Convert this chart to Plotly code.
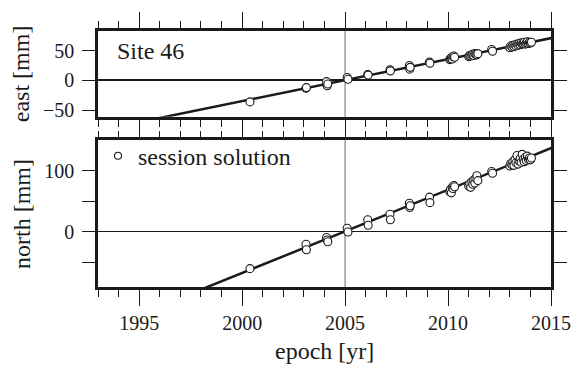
import plotly.graph_objects as go
from plotly.subplots import make_subplots

# ---- data ----
epochs = [2000.38,
          2003.10, 2003.12,
          2004.10, 2004.13, 2004.16,
          2005.10, 2005.14,
          2006.10, 2006.12,
          2007.18, 2007.20,
          2008.12, 2008.14, 2008.16,
          2009.10, 2009.12,
          2010.08, 2010.12, 2010.16, 2010.20, 2010.24, 2010.28, 2010.32,
          2011.00, 2011.05, 2011.10, 2011.15, 2011.20, 2011.25, 2011.30, 2011.35, 2011.40, 2011.45,
          2012.12, 2012.16,
          2013.00, 2013.05, 2013.10, 2013.15, 2013.20, 2013.25, 2013.30, 2013.35, 2013.40, 2013.45,
          2013.50, 2013.55, 2013.60, 2013.65, 2013.70, 2013.75, 2013.80, 2013.85, 2013.90, 2013.95,
          2014.00, 2014.05]
east = [-36,
        -13, -12,
        -2, -9, -6,
        5, 2,
        10, 9,
        18, 16,
        25, 19, 22,
        31, 29,
        35, 37, 38, 36, 40, 41, 39,
        40, 42, 41, 43, 44, 42, 45, 44, 43, 45,
        52, 49,
        55, 58, 56, 59, 57, 60, 58, 61, 59, 62,
        60, 63, 61, 62, 64, 61, 63, 65, 62, 64,
        63, 64]
north = [-60,
         -20, -29,
         -9, -13, -16,
         6, 0,
         20, 11,
         29, 20,
         47, 40, 43,
         57, 48,
         66, 70, 64, 73, 71, 76, 74,
         75, 79, 73, 82, 78, 85, 80, 88, 92, 84,
         99, 96,
         108, 112, 110, 115, 109, 118, 113, 125, 111, 116,
         120, 114, 127, 119, 115, 122, 117, 124, 119, 121,
         118, 121]

# linear fit parameters: value at reference epoch [mm] and rate [mm/yr]
ref_epoch = 2005.0
east_fit = (0.5, 7.05)
north_fit = (1.0, 13.6)
fit_span = [1990.0, 2016.0]

xticks = [1995, 2000, 2005, 2010, 2015]
east_ticks = [-50, 0, 50]
north_ticks = [-50, 0, 50, 100]
north_ticklabels = ["", "0", "", "100"]

site_label = "Site 46"
legend_label = "session solution"

FONT = "Liberation Serif, Times New Roman, Times, serif"
INK = "#1a1a1a"

fig = make_subplots(rows=2, cols=1, shared_xaxes=False)

def fit_vals(p):
    return [p[0] + p[1] * (t - ref_epoch) for t in fit_span]

fig.add_trace(go.Scatter(x=fit_span, y=fit_vals(east_fit), mode="lines",
                         line=dict(color=INK, width=2.5), showlegend=False), row=1, col=1)
fig.add_trace(go.Scatter(x=epochs, y=east, mode="markers",
                         marker=dict(symbol="circle", size=8, color="white",
                                     line=dict(color=INK, width=1.1)),
                         showlegend=False), row=1, col=1)
fig.add_trace(go.Scatter(x=fit_span, y=fit_vals(north_fit), mode="lines",
                         line=dict(color=INK, width=2.5), showlegend=False), row=2, col=1)
fig.add_trace(go.Scatter(x=epochs, y=north, mode="markers",
                         marker=dict(symbol="circle", size=8, color="white",
                                     line=dict(color=INK, width=1.1)),
                         showlegend=False), row=2, col=1)
# legend-only entry
fig.add_trace(go.Scatter(x=[None], y=[None], mode="markers", name=legend_label,
                         marker=dict(symbol="circle", size=7, color="white",
                                     line=dict(color=INK, width=1.1)),
                         showlegend=True), row=2, col=1)

W, H = 583, 370
L, R, T, B = 98, 24, 25, 83.3
ph = H - T - B
top_dom = [1 - (112.7 - T) / ph, 1]
bot_dom = [0, (286.7 - 136.7) / ph]

common_x = dict(range=[1993, 2015], tickmode="array", tickvals=xticks,
                ticks="outside", ticklen=16, tickwidth=1.3, tickcolor=INK,
                showline=True, linewidth=2.5, linecolor=INK, mirror="allticks",
                showgrid=False, zeroline=False,
                minor=dict(dtick=1, tick0=1993, ticks="outside", ticklen=7,
                           tickwidth=1.3, tickcolor=INK, showgrid=False),
                tickfont=dict(family=FONT, size=20, color=INK))
fig.update_xaxes(**common_x)
fig.update_xaxes(showticklabels=False, row=1, col=1)
fig.update_xaxes(ticklabelstandoff=0, row=2, col=1)

common_y = dict(ticks="outside", ticklen=13, tickwidth=1.3, tickcolor=INK,
                showline=True, linewidth=2.5, linecolor=INK, mirror="allticks",
                showgrid=False, zeroline=True, zerolinecolor=INK,
                tickfont=dict(family=FONT, size=20, color=INK),
                ticklabelstandoff=4)
fig.update_yaxes(**common_y)
fig.update_yaxes(range=[-61, 83], tickmode="array", tickvals=east_ticks,
                 zerolinewidth=2, domain=top_dom, row=1, col=1)
fig.update_yaxes(range=[-90, 150], tickmode="array", tickvals=north_ticks,
                 ticktext=north_ticklabels, zerolinewidth=1.2, domain=bot_dom, row=2, col=1)

# reference epoch vertical line in each panel
for yr in ["y domain", "y2 domain"]:
    xr = "x" if yr == "y domain" else "x2"
    fig.add_shape(type="line", xref=xr, yref=yr, x0=ref_epoch, x1=ref_epoch, y0=0, y1=1,
                  line=dict(color="#6a6a6a", width=1), layer="below")

fig.add_annotation(text=site_label, xref="x domain", yref="y domain",
                   x=(115 - L) / (W - L - R), y=(112.7 - 45) / (112.7 - T),
                   xanchor="left", yanchor="middle", showarrow=False,
                   font=dict(family=FONT, size=24, color=INK))
fig.add_annotation(text="east [mm]", xref="paper", yref="y domain",
                   x=(20 - L) / (W - L - R), y=0.5, textangle=-90,
                   xanchor="center", yanchor="middle", showarrow=False,
                   font=dict(family=FONT, size=24, color=INK))
fig.add_annotation(text="north [mm]", xref="paper", yref="y2 domain",
                   x=(20 - L) / (W - L - R), y=0.5, textangle=-90,
                   xanchor="center", yanchor="middle", showarrow=False,
                   font=dict(family=FONT, size=24, color=INK))
fig.add_annotation(text="epoch [yr]", xref="paper", yref="paper",
                   x=0.5, y=(286.7 - 352) / ph,
                   xanchor="center", yanchor="middle", showarrow=False,
                   font=dict(family=FONT, size=24, color=INK))

fig.update_layout(
    width=W, height=H,
    margin=dict(l=L, r=R, t=T, b=B),
    paper_bgcolor="white", plot_bgcolor="white",
    font=dict(family=FONT, color=INK),
    showlegend=True,
    legend=dict(x=0, xanchor="left", y=(286.7 - 130) / ph, yanchor="top",
                bgcolor="rgba(0,0,0,0)", borderwidth=0,
                font=dict(family=FONT, size=24, color=INK),
                itemsizing="trace"),
)

fig.write_html("out.html")
